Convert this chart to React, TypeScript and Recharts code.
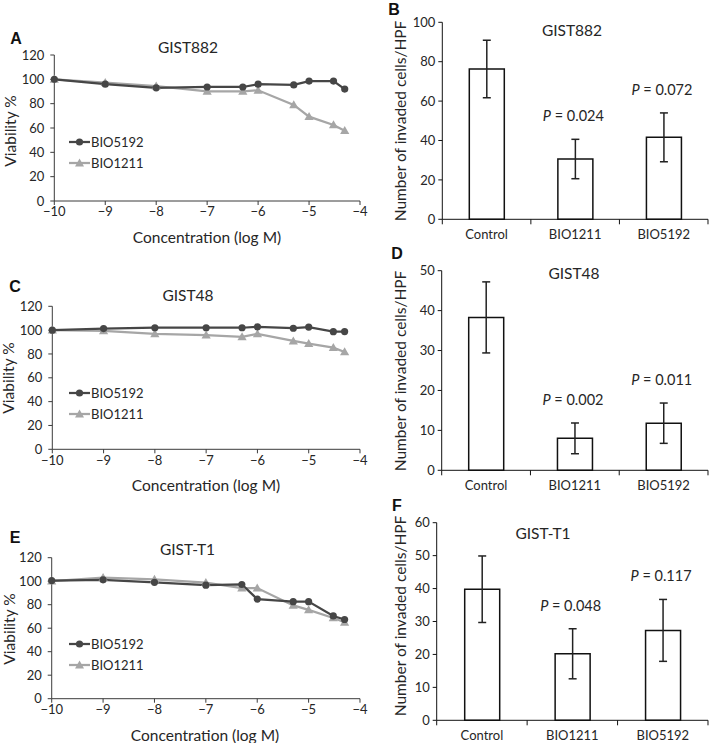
import React from 'react';
import { LineChart, Line, XAxis, YAxis, Legend, BarChart, Bar, ErrorBar, LabelList } from 'recharts';

const FONT = 'Lato, "Open Sans", sans-serif';
const DARK = '#464646';
const LIGHT = '#a6a6a6';
const AXIS = '#3a3a3a';
const INK = '#262626';

// log10 of the concentrations (M)
const CONC = [-10, -9, -8, -7, -6.3, -6, -5.3, -5, -4.52, -4.3];
const X_TICKS = [-10, -9, -8, -7, -6, -5, -4];
const VIAB_TICKS = [0, 20, 40, 60, 80, 100, 120];

// viability %
const GIST882_BIO5192 = [100, 96, 93, 93.7, 93.7, 96, 95.4, 98.6, 98.6, 92];
const GIST882_BIO1211 = [100, 97.3, 94.5, 90.2, 90.2, 91, 79, 69.3, 62.5, 57.8];
const GIST48_BIO5192 = [100, 101.3, 102, 102, 102, 102.8, 101.6, 102.6, 98.7, 98.8];
const GIST48_BIO1211 = [100, 99.3, 96.8, 95.9, 94.3, 96.8, 90.9, 88.7, 85.3, 81.7];
const GISTT1_BIO5192 = [100.5, 101.2, 99, 96.6, 97.2, 84.8, 82.6, 82.6, 70.4, 67.4];
const GISTT1_BIO1211 = [100, 103, 101.6, 98.7, 94.2, 94.2, 79.4, 75.6, 68.7, 65];

// invasion assay
const GROUPS = ['Control', 'BIO1211', 'BIO5192'];
const GIST882_INV = [76.3, 30.6, 41.6];
const GIST882_ERR = [14.6, 10, 12.4];
const GIST882_P = ['', '0.024', '0.072'];
const GIST882_TICKS = [0, 20, 40, 60, 80, 100];
const GIST48_INV = [38.3, 8.0, 11.8];
const GIST48_ERR = [8.9, 3.85, 5.05];
const GIST48_P = ['', '0.002', '0.011'];
const GIST48_TICKS = [0, 10, 20, 30, 40, 50];
const GISTT1_INV = [39.8, 20.2, 27.3];
const GISTT1_ERR = [10.1, 7.6, 9.4];
const GISTT1_P = ['', '0.048', '0.117'];
const GISTT1_TICKS = [0, 10, 20, 30, 40, 50, 60];

const SERIES = [
  { name: 'BIO5192', color: DARK, shape: 'circle' },
  { name: 'BIO1211', color: LIGHT, shape: 'triangle' },
];

const fmtLog = (v: number) => (v < 0 ? `\u2212${Math.abs(v)}` : `${v}`);

const triangleDot = (props: any) => {
  const { cx, cy, index } = props;
  if (cx == null || cy == null) return <g key={`t-${index}`} />;
  return (
    <path
      key={`t-${index}`}
      d={`M${cx},${cy - 4.6}L${cx + 4.6},${cy + 3.4}L${cx - 4.6},${cy + 3.4}Z`}
      fill={LIGHT}
    />
  );
};

const renderLegend = () => (
  <div style={{ fontFamily: FONT, fontSize: 13, color: INK }}>
    {SERIES.map((s) => (
      <div key={s.name} style={{ display: 'flex', alignItems: 'center', height: 21 }}>
        <svg width={21} height={12} style={{ display: 'block' }}>
          <line x1={0} y1={6} x2={21} y2={6} stroke={s.color} strokeWidth={2.25} />
          {s.shape === 'circle' ? (
            <circle cx={10.5} cy={6} r={3.6} fill={s.color} />
          ) : (
            <path d="M10.5,1.6L15,9.4L6,9.4Z" fill={s.color} />
          )}
        </svg>
        <span style={{ marginLeft: 1 }}>{s.name}</span>
      </div>
    ))}
  </div>
);

type ViabProps = {
  top: number;
  plotTop: number;
  plotHeight: number;
  axisWidth: number;
  bio5192: number[];
  bio1211: number[];
};

const ViabilityPanel = ({ top, plotTop, plotHeight, axisWidth, bio5192, bio1211 }: ViabProps) => {
  const rows = CONC.map((c, i) => ({ conc: c, bio5192: bio5192[i], bio1211: bio1211[i] }));
  const mt = plotTop - top;
  const tickStyle = { fill: INK, fontSize: 13, fontFamily: FONT };
  return (
    <div style={{ position: 'absolute', left: 0, top }}>
      <LineChart
        width={375}
        height={mt + plotHeight + 24}
        data={rows}
        margin={{ top: mt, right: 15, bottom: 0, left: 0 }}
      >
        <XAxis
          dataKey="conc"
          type="number"
          domain={[-10, -4]}
          ticks={X_TICKS}
          interval={0}
          tickFormatter={fmtLog}
          height={24}
          stroke={AXIS}
          tick={tickStyle}
          tickSize={4}
          tickMargin={2}
        />
        <YAxis
          type="number"
          domain={[0, 120]}
          ticks={VIAB_TICKS}
          interval={0}
          width={axisWidth}
          stroke={AXIS}
          tick={tickStyle}
          tickSize={4}
          tickMargin={6}
        />
        <Legend
          layout="vertical"
          align="center"
          verticalAlign="middle"
          content={renderLegend}
          wrapperStyle={{ left: 69, top: mt + 76, width: 'auto' }}
        />
        <Line
          dataKey="bio1211"
          name="BIO1211"
          stroke={LIGHT}
          strokeWidth={2.25}
          dot={triangleDot}
          isAnimationActive={false}
        />
        <Line
          dataKey="bio5192"
          name="BIO5192"
          stroke={DARK}
          strokeWidth={2.25}
          dot={{ r: 3.6, fill: DARK, stroke: 'none' }}
          isAnimationActive={false}
        />
      </LineChart>
    </div>
  );
};

const CategoryTick = (props: any) => {
  const { x, y, payload, index } = props;
  const half = payload && typeof payload.offset === 'number' && payload.offset > 0 ? payload.offset : 44;
  return (
    <g>
      <line x1={x - half} y1={y} x2={x - half} y2={y + 5} stroke="#111" />
      {index === GROUPS.length - 1 && <line x1={x + half} y1={y} x2={x + half} y2={y + 5} stroke="#111" />}
      <text
        x={x}
        y={y + 14.5}
        textAnchor="middle"
        dominantBaseline="central"
        fill={INK}
        fontSize={13}
        fontFamily={FONT}
      >
        {payload.value}
      </text>
    </g>
  );
};

type InvProps = {
  top: number;
  plotTop: number;
  plotHeight: number;
  axisWidth: number;
  ticks: number[];
  values: number[];
  errs: number[];
  ps: string[];
};

const InvasionPanel = ({ top, plotTop, plotHeight, axisWidth, ticks, values, errs, ps }: InvProps) => {
  const rows = GROUPS.map((g, i) => ({ group: g, value: values[i], err: errs[i], p: ps[i] }));
  const mt = plotTop - top;

  // p-value sits a little above the error bar cap
  const renderP = (props: any) => {
    const { x, y, width, height, value, index } = props;
    if (!value) return null;
    const v = values[index];
    const capPx = v ? (Number(height) * errs[index]) / v : 0;
    const cy = Number(y) - capPx - 24;
    return (
      <text
        key={`p-${index}`}
        x={Number(x) + Number(width) / 2 - 2}
        y={cy}
        textAnchor="middle"
        dominantBaseline="central"
        fill={INK}
        fontSize={14.5}
        fontFamily={FONT}
      >
        <tspan fontStyle="italic">P</tspan>
        <tspan>{` = ${value}`}</tspan>
      </text>
    );
  };

  return (
    <div style={{ position: 'absolute', left: 360, top }}>
      <BarChart
        width={349}
        height={mt + plotHeight + 26}
        data={rows}
        margin={{ top: mt, right: 1, bottom: 0, left: 0 }}
      >
        <XAxis
          dataKey="group"
          interval={0}
          height={26}
          stroke="#111"
          tickLine={false}
          tickSize={0}
          tickMargin={0}
          tick={CategoryTick}
        />
        <YAxis
          type="number"
          domain={[ticks[0], ticks[ticks.length - 1]]}
          ticks={ticks}
          interval={0}
          width={axisWidth}
          stroke="#111"
          tick={{ fill: INK, fontSize: 13, fontFamily: FONT }}
          tickSize={4}
          tickMargin={3}
        />
        <Bar
          dataKey="value"
          fill="#fff"
          stroke="#111"
          strokeWidth={1.5}
          barSize={35}
          isAnimationActive={false}
        >
          <ErrorBar dataKey="err" width={4} stroke="#222" strokeWidth={1.5} direction="y" />
          <LabelList dataKey="p" content={renderP} />
        </Bar>
      </BarChart>
    </div>
  );
};

const t = { fontFamily: FONT, fill: INK };

export default function App() {
  return (
    <div style={{ position: 'absolute', left: 0, top: 0, width: 709, height: 743, background: '#fff', overflow: 'hidden' }}>
      <ViabilityPanel top={0} plotTop={55} plotHeight={146} axisWidth={54.3} bio5192={GIST882_BIO5192} bio1211={GIST882_BIO1211} />
      <ViabilityPanel top={250} plotTop={306.3} plotHeight={143} axisWidth={52.3} bio5192={GIST48_BIO5192} bio1211={GIST48_BIO1211} />
      <ViabilityPanel top={500} plotTop={557.7} plotHeight={141} axisWidth={51.7} bio5192={GISTT1_BIO5192} bio1211={GISTT1_BIO1211} />

      <InvasionPanel top={0} plotTop={22.3} plotHeight={197} axisWidth={82.3} ticks={GIST882_TICKS} values={GIST882_INV} errs={GIST882_ERR} ps={GIST882_P} />
      <InvasionPanel top={250} plotTop={270.7} plotHeight={199.6} axisWidth={81.7} ticks={GIST48_TICKS} values={GIST48_INV} errs={GIST48_ERR} ps={GIST48_P} />
      <InvasionPanel top={500} plotTop={522.7} plotHeight={197.6} axisWidth={76.7} ticks={GISTT1_TICKS} values={GISTT1_INV} errs={GISTT1_ERR} ps={GISTT1_P} />

      <svg width={709} height={743} style={{ position: 'absolute', left: 0, top: 0, pointerEvents: 'none' }}>
        <g fontFamily='"Liberation Sans", Arial, sans-serif' fontWeight="bold" fontSize={16} fill="#111" textAnchor="middle" dominantBaseline="central">
          <text x={16} y={38}>A</text>
          <text x={394} y={9}>B</text>
          <text x={15} y={286}>C</text>
          <text x={397} y={253}>D</text>
          <text x={15} y={537.5}>E</text>
          <text x={397} y={505}>F</text>
        </g>
        <g {...t} fontSize={15.5} textAnchor="middle" dominantBaseline="central">
          <text x={188} y={47}>GIST882</text>
          <text x={572} y={30}>GIST882</text>
          <text x={188} y={295}>GIST48</text>
          <text x={574} y={273}>GIST48</text>
          <text x={187.5} y={549}>GIST-T1</text>
          <text x={543} y={532.5}>GIST-T1</text>

          <text x={207} y={237}>Concentration (log M)</text>
          <text x={206} y={485}>Concentration (log M)</text>
          <text x={205} y={735}>Concentration (log M)</text>

          <text x={10} y={131} transform="rotate(-90, 10, 131)">Viability %</text>
          <text x={8} y={378} transform="rotate(-90, 8, 378)">Viability %</text>
          <text x={9} y={629} transform="rotate(-90, 9, 629)">Viability %</text>

          <text x={400} y={121} transform="rotate(-90, 400, 121)">Number of invaded cells/HPF</text>
          <text x={400} y={371} transform="rotate(-90, 400, 371)">Number of invaded cells/HPF</text>
          <text x={400} y={616} transform="rotate(-90, 400, 616)">Number of invaded cells/HPF</text>
        </g>
      </svg>
    </div>
  );
}
